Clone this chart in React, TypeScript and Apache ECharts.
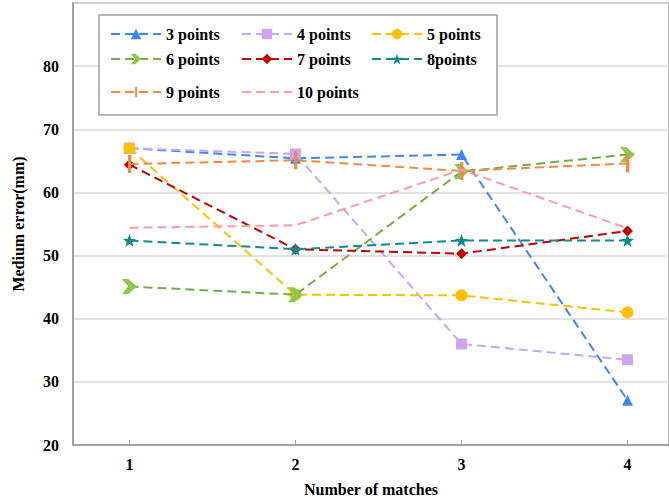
import React, { useEffect, useRef } from "react";
import * as echarts from "echarts";

const xValues = [1, 2, 3, 4];
const seriesNames = ["3 points", "4 points", "5 points", "6 points", "7 points", "8points", "9 points", "10 points"];
const s3 = [67, 65.4, 66, 27.1];
const s4 = [67, 66.1, 36, 33.5];
const s5 = [67, 43.8, 43.7, 41];
const s6 = [45.1, 43.8, 63.3, 66];
const s7 = [64.4, 51, 50.3, 53.9];
const s8 = [52.4, 51, 52.4, 52.4];
const s9 = [64.5, 65.1, 63.4, 64.6];
const s10 = [54.4, 54.8, 63.6, 54.3];
const yTicks = [20, 30, 40, 50, 60, 70, 80];

const colors = ["#3d87f5", "#c9a5f2", "#ffc000", "#8cc84b", "#c00000", "#138a8a", "#f08a45", "#ff9c9c"];
const lineColors = ["#3d87f5", "#c9a5f2", "#ffc000", "#70ad47", "#c00000", "#138a8a", "#f08a45", "#ff9c9c"];

const chevron = "path://M0,0 L5,0 L12,6 L5,12 L0,12 L5,6 Z";
const star = "path://M12,0 L15,8.5 L24,8.8 L17,14.3 L19.4,23 L12,18 L4.6,23 L7,14.3 L0,8.8 L9,8.5 Z";
const bar = "path://M0,0 L0.01,0 L0,0.01 Z M23.99,24 L24,24 L24,23.99 Z M10,0 L14.5,0 L14.5,24 L10,24 Z";
const symbols: any[] = ["triangle", "rect", "circle", chevron, "diamond", star, bar, "circle"];
const symbolSizes: any[] = [11, 11, 12, 15, 11, 13, 18, 0];

const legendPos = [
  [110, 26], [241, 26], [371, 26],
  [110, 51], [241, 51], [371, 51],
  [110, 84], [241, 84],
];

export default function App() {
  const ref = useRef<HTMLDivElement>(null);
  useEffect(() => {
    const chart = echarts.init(ref.current!, null, { renderer: "svg" });
    const all = [s3, s4, s5, s6, s7, s8, s9, s10];
    const font = "'Liberation Serif', 'Times New Roman', serif";
    const series = all.map((vals, i) => ({
      name: seriesNames[i],
      type: "line",
      data: vals.map((v, j) => [xValues[j], v]),
      symbol: symbols[i],
      symbolSize: symbolSizes[i],
      showSymbol: i !== 7,
      lineStyle: { color: lineColors[i], width: 2, type: [9, 5] },
      itemStyle: { color: colors[i] },
      z: 3 + i,
    }));
    const legends = seriesNames.map((n, i) => ({
      data: [i === 7 ? { name: n, itemStyle: { opacity: 0 } } : { name: n }],
      left: legendPos[i][0],
      top: legendPos[i][1],
      padding: 0,
      itemWidth: 50,
      itemHeight: 13,
      itemGap: 0,
      z: 30,
      selectedMode: false,
      textStyle: { fontFamily: font, fontWeight: "bold", fontSize: 16, color: "#000" },
    }));
    chart.setOption({
      animation: false,
      backgroundColor: "#fff",
      grid: {
        left: 73, right: 0, top: 3, bottom: 52, show: true,
        borderColor: "#a0a0a0", borderWidth: 1.5,
        outerBoundsMode: "none", containLabel: false,
      },
      xAxis: {
        type: "value",
        min: 0.66,
        max: 4.25,
        name: "Number of matches",
        nameLocation: "middle",
        nameGap: 36,
        nameTextStyle: { fontFamily: font, fontWeight: "bold", fontSize: 16, color: "#000" },
        axisLine: { show: true, lineStyle: { color: "#a0a0a0", width: 2 } },
        axisTick: { show: true, inside: true, length: 5, customValues: xValues, lineStyle: { color: "#a0a0a0" } },
        axisLabel: { customValues: xValues, fontFamily: font, fontWeight: "bold", fontSize: 16, color: "#000", margin: 11 },
        splitLine: { show: false },
      },
      yAxis: {
        type: "value",
        min: 20,
        max: 90,
        interval: 10,
        name: "Medium error(mm)",
        nameLocation: "middle",
        nameGap: 47,
        nameTextStyle: { fontFamily: font, fontWeight: "bold", fontSize: 16, color: "#000" },
        axisLine: { show: true, lineStyle: { color: "#a0a0a0", width: 2 } },
        axisTick: { show: false },
        axisLabel: {
          fontFamily: font, fontWeight: "bold", fontSize: 16, color: "#000", margin: 14,
          customValues: yTicks,
        },
        splitLine: { show: true, lineStyle: { color: "#d9d9d9", width: 1.5 } },
      },
      legend: legends,
      graphic: [
        {
          type: "rect",
          shape: { x: 99, y: 15, width: 398, height: 100 },
          style: { fill: "#fff", stroke: "#a0a0a0", lineWidth: 1.5 },
          z: 20,
        },
      ],
      series,
    });
    return () => chart.dispose();
  }, []);
  return <div ref={ref} style={{ position: "absolute", left: 0, top: 0, width: 669, height: 497 }} />;
}
